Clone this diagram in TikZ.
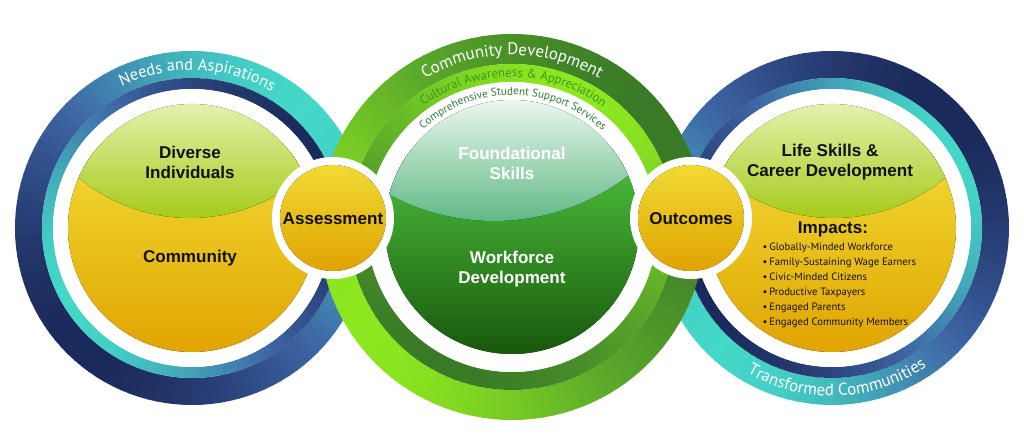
\documentclass[tikz,border=0pt]{standalone}
\usepackage{fontspec}
\setmainfont{Liberation Sans}
\newfontfamily\arcfont{PT Sans}
\usetikzlibrary{decorations.text}

\definecolor{navyc}{HTML}{1B2A5C}
\definecolor{bluec}{HTML}{3F66A6}
\definecolor{tealc}{HTML}{44D9C8}
\definecolor{limec}{HTML}{8DE81F}
\definecolor{midgc}{HTML}{5CAA2A}
\definecolor{darkgc}{HTML}{3A7A27}
\definecolor{yelltop}{HTML}{F2DA34}
\definecolor{yellbot}{HTML}{E0A300}
\definecolor{paletop}{HTML}{E4F2AE}
\definecolor{palebot}{HTML}{A4CA18}
\definecolor{minttop}{HTML}{EEF8F0}
\definecolor{mintbot}{HTML}{5DB884}
\definecolor{wftop}{HTML}{4FC43E}
\definecolor{wfbot}{HTML}{17560B}
\definecolor{inkc}{HTML}{111111}
\definecolor{cultc}{HTML}{3A9A1E}
\definecolor{compc}{HTML}{2E7D32}

% ring with a colour that turns round it: cx, cy, r in, r out, angle of light colour, light, mid, dark
\newcommand{\gradring}[8]{%
  \pgfmathsetmacro\rmid{(#3+#4)/2}
  \pgfmathsetmacro\rw{(#4-#3)*0.75}
  \foreach \a in {0,3,...,357}{
    \pgfmathtruncatemacro\m{50+50*cos(\a-#5)}
    \ifnum\m>49 \pgfmathtruncatemacro\k{2*\m-100}\colorlet{segc}{#6!\k!#7}%
    \else \pgfmathtruncatemacro\k{2*\m}\colorlet{segc}{#7!\k!#8}\fi
    \draw[segc, line width=\rw pt] (#1,#2) ++(\a:\rmid) arc[start angle=\a, end angle=\a+3.6, radius=\rmid];
  }
}

\tikzset{
  titletext/.style={font=\fontsize{12.8}{15}\selectfont\bfseries, align=center, text=inkc},
  whitetitle/.style={titletext, text=white},
  impactlist/.style={font=\arcfont\fontsize{8}{11.25}\selectfont, align=left, text=inkc, anchor=west},
  yellowdot/.style={top color=yelltop, bottom color=yellbot}
}

\begin{document}
\begin{tikzpicture}[x=0.75pt, y=0.75pt]
\useasboundingbox (0,0) rectangle (1024,448);

% left circle
\gradring{192}{220}{150}{177}{45}{tealc}{bluec}{navyc}
\gradring{192}{220}{139}{150}{210}{tealc}{bluec}{navyc}
\fill[white] (192,220) circle (139);
\begin{scope}
  \clip (192,220) circle (124);
  \fill[top color=yelltop, bottom color=yellbot] (60,90) rectangle (320,300);
  \clip (190,403.5) circle (173.5);
  \fill[top color=paletop, bottom color=palebot] (60,228) rectangle (320,346);
\end{scope}

% right circle
\gradring{832}{220}{150}{177}{225}{tealc}{bluec}{navyc}
\gradring{832}{220}{139}{150}{30}{tealc}{bluec}{navyc}
\fill[white] (832,220) circle (139);
\begin{scope}
  \clip (832,220) circle (124);
  \fill[top color=yelltop, bottom color=yellbot] (700,90) rectangle (960,300);
  \clip (834,403.5) circle (173.5);
  \fill[top color=paletop, bottom color=palebot] (700,228) rectangle (960,346);
\end{scope}

% centre circle
\gradring{512}{221}{163}{193}{210}{limec}{midgc}{darkgc}
\gradring{512}{221}{145}{163}{60}{limec}{midgc}{darkgc}
\fill[white] (512,221) circle (145);
\begin{scope}
  \clip (512,221) circle (127);
  \fill[top color=wftop, bottom color=wfbot] (380,90) rectangle (645,300);
  \clip (494,448) circle (221);
  \fill[top color=minttop, bottom color=mintbot] (380,225) rectangle (645,350);
\end{scope}

% texts round the rings
\path[decorate, decoration={text along path, text align=center,
  text={|\arcfont\fontsize{12.3}{14}\selectfont\color{white}|Needs and Aspirations}}]
  (192,220) ++(132:158) arc[start angle=132, end angle=44, radius=158];
\path[decorate, decoration={text along path, text align=center,
  text={|\arcfont\fontsize{12.6}{14}\selectfont\color{white}|Transformed Communities}}]
  (832,220) ++(226:168) arc[start angle=226, end angle=318, radius=168];
\path[decorate, decoration={text along path, text align=center,
  text={|\arcfont\fontsize{12.6}{14}\selectfont\color{white}|Community Development}}]
  (512,221) ++(132:172) arc[start angle=132, end angle=48, radius=172];
\path[decorate, decoration={text along path, text align=center,
  text={|\arcfont\fontsize{9.6}{11}\selectfont\color{cultc}|Cultural Awareness {\&} Appreciation}}]
  (512,221) ++(137:150) arc[start angle=137, end angle=42, radius=150];
\path[decorate, decoration={text along path, text align=center,
  text={|\arcfont\fontsize{8.4}{10}\selectfont\color{compc}|Comprehensive Student Support Services}}]
  (512,221) ++(142:132) arc[start angle=142, end angle=37, radius=132];

% small circles
\fill[white] (333,230) circle (61);
\fill[yellowdot] (333,230) circle (53);
\fill[white] (691,230) circle (61);
\fill[yellowdot] (691,230) circle (53);

\node[titletext] (diverse) at (190,286) {Diverse\\Individuals};
\node[titletext] (community) at (190,190) {Community};
\node[titletext] (assess) at (333,229) {Assessment};
\node[whitetitle] (found) at (512,285) {Foundational\\Skills};
\node[whitetitle] (workforce) at (512,179) {Workforce\\Development};
\node[titletext] (outcomes) at (691,229) {Outcomes};
\node[titletext] (life) at (830,286) {Life Skills \&\\Career Development};
\node[titletext] (impacts) at (833,219) {Impacts:};
\node[impactlist] (list) at (758,162.5) {\textbullet\,Globally-Minded Workforce\\
  \textbullet\,Family-Sustaining Wage Earners\\
  \textbullet\,Civic-Minded Citizens\\
  \textbullet\,Productive Taxpayers\\
  \textbullet\,Engaged Parents\\
  \textbullet\,Engaged Community Members};
\end{tikzpicture}
\end{document}
